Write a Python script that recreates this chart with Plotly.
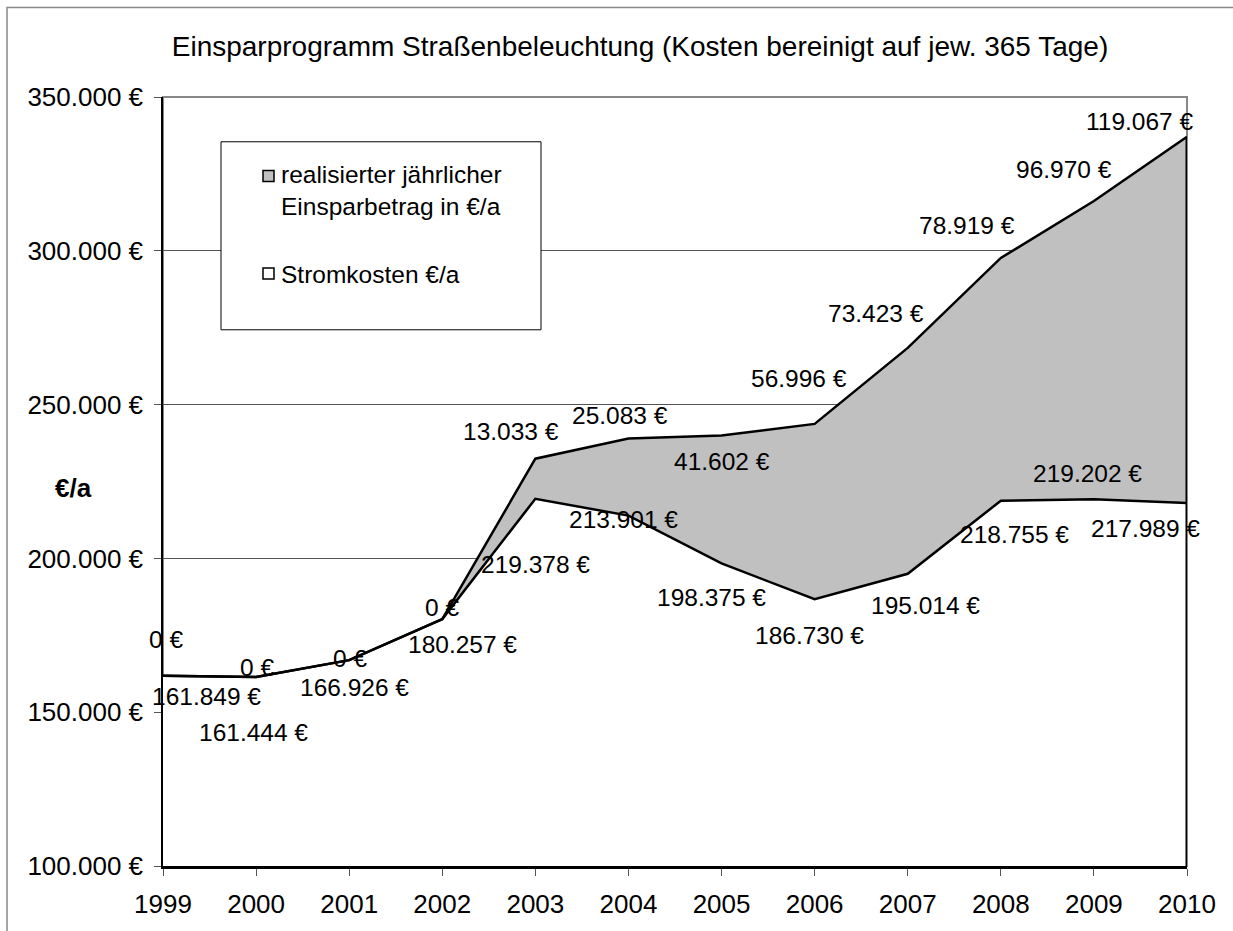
import plotly.graph_objects as go

years = [1999, 2000, 2001, 2002, 2003, 2004, 2005, 2006, 2007, 2008, 2009, 2010]
stromkosten = [161849, 161444, 166926, 180257, 219378, 213901, 198375, 186730, 195014, 218755, 219202, 217989]
einsparung = [0, 0, 0, 0, 13033, 25083, 41602, 56996, 73423, 78919, 96970, 119067]
y_ticks = [100000, 150000, 200000, 250000, 300000, 350000]

# label offsets (pixels, dx right, dy down) - styling only
strom_off = [(43, 21), (-3, 55), (5, 27), (20, 25), (0, 66), (-5, 4), (-10, 34),
             (-5, 36), (18, 32), (14, 34), (-6, -26), (-42, 25)]
spar_off = [(3, -36), (1, -10), (1, -2), (0, -12), (-24, -27), (-8, -23), (0, 26),
            (-16, -45), (-32, -34), (-34, -32), (-30, -32), (-47, -15)]

FONT = "Liberation Sans, Arial, sans-serif"
FS_LABEL = 24.5
FS_TICK = 26
FS_TITLE = 28
W, H = 1233, 931
L, R, T, B = 163, 1187, 97, 870


def px(x):
    return (x - L) / (R - L)


def py(y):
    return (B - y) / (B - T)


def eur(v):
    return f"{v:,}".replace(",", ".") + " €"


total = [s + e for s, e in zip(stromkosten, einsparung)]

fig = go.Figure()
fig.add_trace(go.Scatter(
    x=years, y=stromkosten, name="Stromkosten €/a", stackgroup="one",
    mode="lines", line=dict(color="black", width=2.5), fillcolor="white",
))
fig.add_trace(go.Scatter(
    x=years, y=einsparung, name="realisierter jährlicher Einsparbetrag in €/a",
    stackgroup="one", mode="lines", line=dict(color="black", width=2.5),
    fillcolor="#C0C0C0",
))
# right edge outline of the area
fig.add_trace(go.Scatter(
    x=[years[-1], years[-1]], y=[y_ticks[0], total[-1]], mode="lines",
    line=dict(color="black", width=3), showlegend=False, hoverinfo="skip",
))

annotations = []
for i, yr in enumerate(years):
    dx, dy = strom_off[i]
    annotations.append(dict(x=yr, y=stromkosten[i], xref="x", yref="y",
                            text=eur(stromkosten[i]), showarrow=False,
                            xshift=dx, yshift=-dy, xanchor="center", yanchor="middle",
                            font=dict(family=FONT, size=FS_LABEL, color="black")))
    dx, dy = spar_off[i]
    annotations.append(dict(x=yr, y=total[i], xref="x", yref="y",
                            text=eur(einsparung[i]), showarrow=False,
                            xshift=dx, yshift=-dy, xanchor="center", yanchor="middle",
                            font=dict(family=FONT, size=FS_LABEL, color="black")))

# y axis title
annotations.append(dict(x=px(73), y=py(490), xref="paper", yref="paper", text="<b>€/a</b>",
                        showarrow=False, xanchor="center", yanchor="middle",
                        font=dict(family=FONT, size=26, color="black")))
# legend texts
annotations.append(dict(x=px(279), y=py(191), xref="paper", yref="paper",
                        text="realisierter jährlicher<br>Einsparbetrag in €/a",
                        showarrow=False, xanchor="left", yanchor="middle", align="left",
                        font=dict(family=FONT, size=FS_LABEL, color="black")))
annotations.append(dict(x=px(279), y=py(275), xref="paper", yref="paper",
                        text="Stromkosten €/a",
                        showarrow=False, xanchor="left", yanchor="middle", align="left",
                        font=dict(family=FONT, size=FS_LABEL, color="black")))

shapes = [
    # outer chart border
    dict(type="rect", xref="paper", yref="paper", x0=px(7), x1=px(1300), y0=py(1000), y1=py(7),
         line=dict(color="#888888", width=1.5), fillcolor="rgba(0,0,0,0)", layer="below"),
    # plot area border (top/right gray)
    dict(type="rect", xref="paper", yref="paper", x0=0, x1=1, y0=0, y1=1,
         line=dict(color="#888888", width=2), fillcolor="rgba(0,0,0,0)", layer="below"),
    # legend box
    dict(type="rect", xref="paper", yref="paper", x0=px(221), x1=px(541), y0=py(331), y1=py(142),
         line=dict(color="black", width=1), fillcolor="white", layer="above"),
    # legend symbols
    dict(type="rect", xref="paper", yref="paper", x0=px(263), x1=px(274), y0=py(182), y1=py(171),
         line=dict(color="black", width=1.5), fillcolor="#C0C0C0", layer="above"),
    dict(type="rect", xref="paper", yref="paper", x0=px(263), x1=px(274), y0=py(280), y1=py(269),
         line=dict(color="black", width=1.5), fillcolor="white", layer="above"),
]

fig.update_layout(
    width=W, height=H,
    margin=dict(l=L, r=W - R, t=T, b=H - B),
    paper_bgcolor="white", plot_bgcolor="white",
    showlegend=False,
    title=dict(text="Einsparprogramm Straßenbeleuchtung (Kosten bereinigt auf jew. 365 Tage)",
               x=640 / W, xanchor="center", y=1 - 46 / H, yanchor="middle",
               font=dict(family=FONT, size=FS_TITLE, color="black")),
    font=dict(family=FONT, size=FS_LABEL, color="black"),
    annotations=annotations,
    shapes=shapes,
)
fig.update_xaxes(
    range=[years[0], years[-1]], tickmode="array", tickvals=years,
    ticktext=[str(y) for y in years], showgrid=False, zeroline=False,
    showline=True, linecolor="black", linewidth=2.5,
    ticks="outside", ticklen=7, tickcolor="#555555", tickwidth=1,
    ticklabelstandoff=6, tickfont=dict(family=FONT, size=FS_TICK, color="black"),
)
fig.update_yaxes(
    range=[y_ticks[0], y_ticks[-1]], tickmode="array", tickvals=y_ticks,
    ticktext=[eur(v) for v in y_ticks], showgrid=True, gridcolor="#555555", gridwidth=1,
    zeroline=False, showline=True, linecolor="black", linewidth=1.5,
    ticks="outside", ticklen=7, tickcolor="#555555", tickwidth=1,
    ticklabelstandoff=6, tickfont=dict(family=FONT, size=FS_TICK, color="black"),
)

fig.write_html("out.html", config={"displayModeBar": False},
               post_script="document.body.style.margin='0';")
